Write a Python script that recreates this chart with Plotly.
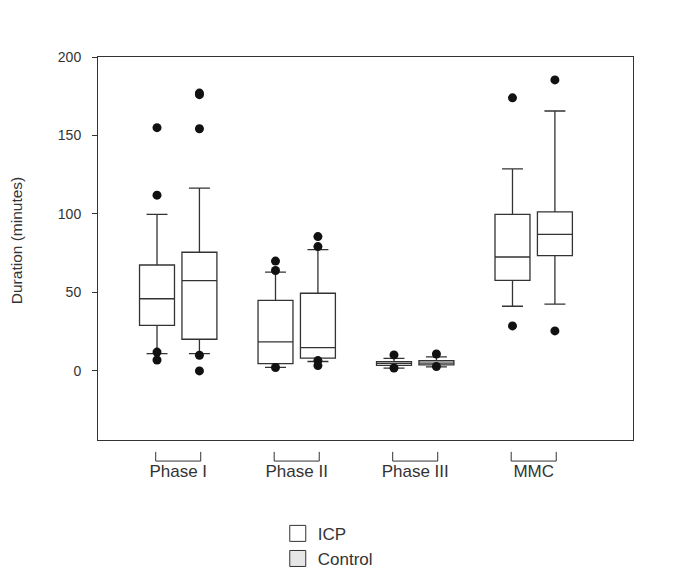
import plotly.graph_objects as go

categories = ["Phase I", "Phase II", "Phase III", "MMC"]

icp_q1 = [29.0, 4.7, 3.6, 57.7]
icp_median = [46.0, 18.5, 4.8, 72.6]
icp_q3 = [67.5, 45.0, 5.9, 99.8]
icp_lower = [11.0, 2.3, 1.8, 41.2]
icp_upper = [99.8, 62.9, 8.0, 128.7]
icp_outliers = [[155.0, 112.0, 12.0, 7.0], [70.0, 64.0, 2.2], [10.2, 1.9], [174.0, 28.7]]

ctl_q1 = [20.2, 8.1, 3.8, 73.4]
ctl_median = [57.5, 14.9, 5.0, 87.0]
ctl_q3 = [75.6, 49.5, 6.5, 101.3]
ctl_lower = [11.0, 6.0, 2.6, 42.5]
ctl_upper = [116.4, 77.3, 9.0, 165.6]
ctl_outliers = [[177.0, 176.0, 154.3, 10.0, 0.0], [85.6, 79.2, 6.6, 3.4], [10.8, 2.8], [185.4, 25.5]]

series = [
    ("ICP", icp_q1, icp_median, icp_q3, icp_lower, icp_upper, icp_outliers, "white", -0.179),
    ("Control", ctl_q1, ctl_median, ctl_q3, ctl_lower, ctl_upper, ctl_outliers, "#e6e6e6", 0.179),
]

LINE = "#333333"
TXT = "#333333"
FONT = "Liberation Sans, Arial, sans-serif"

fig = go.Figure()
for name, q1, med, q3, lo, up, outl, legfill, off in series:
    pos = [i + off for i in range(len(categories))]
    fig.add_trace(go.Box(
        x=pos, q1=q1, median=med, q3=q3, lowerfence=lo, upperfence=up,
        width=0.295, whiskerwidth=0.6, boxpoints=False,
        fillcolor="white", line=dict(color=LINE, width=1.3),
        showlegend=False, hoverinfo="skip",
    ))
    ox, oy = [], []
    for p, vals in zip(pos, outl):
        for v in vals:
            ox.append(p)
            oy.append(v)
    fig.add_trace(go.Scatter(
        x=ox, y=oy, mode="markers",
        marker=dict(color="#111111", size=9, symbol="circle"),
        showlegend=False, hoverinfo="skip",
    ))
    fig.add_trace(go.Scatter(
        x=[None], y=[None], mode="markers", name=name,
        marker=dict(symbol="square", size=17, color=legfill, line=dict(color=LINE, width=1)),
    ))

shapes = []
for i in range(len(categories)):
    a, b = i - 0.19, i + 0.19
    shapes.append(dict(
        type="path", xref="x", yref="paper",
        path=f"M {a},-0.031 L {a},-0.055 L {b},-0.055 L {b},-0.031",
        line=dict(color=LINE, width=1),
    ))

fig.update_layout(
    width=677, height=571,
    margin=dict(l=90, r=52, t=49, b=139, autoexpand=False),
    paper_bgcolor="white", plot_bgcolor="white",
    font=dict(family=FONT, size=15, color=TXT),
    shapes=shapes,
    showlegend=True,
    legend=dict(
        x=0.336, y=-0.198, xanchor="left", yanchor="top",
        font=dict(size=17, color=TXT),
        bgcolor="rgba(0,0,0,0)", tracegroupgap=0, itemwidth=30,
    ),
    annotations=[dict(
        text="Duration (minutes)", xref="paper", yref="paper",
        x=-0.153, y=0.522, xanchor="center", yanchor="middle",
        textangle=-90, showarrow=False, font=dict(size=15.5, color=TXT),
    )],
    xaxis=dict(
        range=[-0.677, 3.838], tickvals=list(range(len(categories))), ticktext=categories,
        showline=True, linecolor=LINE, linewidth=1, mirror=True,
        ticks="outside", ticklen=16, tickcolor="rgba(0,0,0,0)",
        showgrid=False, zeroline=False, automargin=False,
        tickfont=dict(size=17, color=TXT),
    ),
    yaxis=dict(
        range=[-44, 200], tickvals=[0, 50, 100, 150, 200],
        showline=True, linecolor=LINE, linewidth=1, mirror=True,
        ticks="outside", ticklen=5, tickcolor=LINE, ticklabelstandoff=8,
        showgrid=False, zeroline=False, automargin=False,
        tickfont=dict(size=14, color=TXT),
    ),
)

fig.write_html("out.html")
